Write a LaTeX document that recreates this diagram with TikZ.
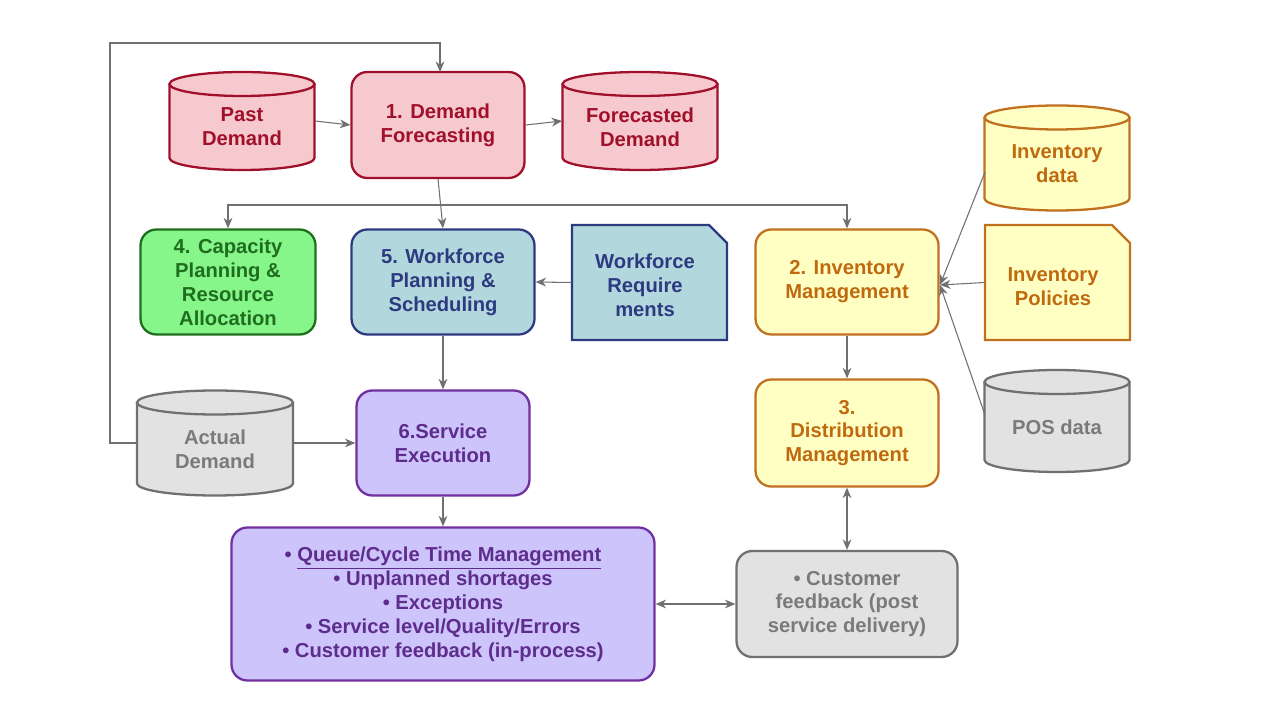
\documentclass[tikz,border=0pt]{standalone}
\usepackage{fontspec}
\setmainfont{Liberation Sans}
\usetikzlibrary{arrows.meta}
\definecolor{redF}{HTML}{F6C9CF}\definecolor{redD}{HTML}{A0102A}
\definecolor{grnF}{HTML}{86F58A}\definecolor{grnD}{HTML}{1E6E1E}
\definecolor{bluF}{HTML}{B2D8DE}\definecolor{bluD}{HTML}{2E3A80}
\definecolor{yelF}{HTML}{FFFFC4}\definecolor{yelD}{HTML}{C0701E}\definecolor{yelT}{HTML}{C06A10}
\definecolor{gryF}{HTML}{E2E2E2}\definecolor{gryD}{HTML}{707070}\definecolor{gryT}{HTML}{7A7A7A}
\definecolor{purF}{HTML}{CCC4FA}\definecolor{purD}{HTML}{7030A0}\definecolor{purT}{HTML}{5E2C8C}
\newcommand\cyl[9]{%
 \fill[#6] ({#2-#4/2},{#3+#5/2-12}) -- ({#2-#4/2},{#3-#5/2+12}) arc[start angle=180,end angle=360,x radius=#4/2,y radius=12] -- ({#2+#4/2},{#3+#5/2-12}) arc[start angle=0,end angle=180,x radius=#4/2,y radius=12] -- cycle;
 \draw[#7,line width=1.3pt] ({#2-#4/2},{#3+#5/2-12}) -- ({#2-#4/2},{#3-#5/2+12}) arc[start angle=180,end angle=360,x radius=#4/2,y radius=12] -- ({#2+#4/2},{#3+#5/2-12});
 \draw[#7,line width=1.3pt] (#2,{#3+#5/2-12}) ellipse[x radius=#4/2,y radius=12];
 \node[minimum width={#4*0.02cm},minimum height={#5*0.02cm},inner sep=0] (#1) at (#2,#3) {};
 \node[txt,text=#8] at (#2,{#3-6}) {#9};}
\newcommand\docshape[8]{%
 \draw[fill=#6,draw=#7,line width=1.3pt] ({#2-#4/2},{#3+#5/2}) -- ({#2+#4/2-18},{#3+#5/2}) -- ({#2+#4/2},{#3+#5/2-18}) -- ({#2+#4/2},{#3-#5/2}) -- ({#2-#4/2},{#3-#5/2}) -- cycle;
 \node[minimum width={#4*0.02cm},minimum height={#5*0.02cm},inner sep=0] (#1) at (#2,#3) {};
 \node[txt,text=#8] at (#2,#3) {#8};}
\tikzset{
 txt/.style={font=\bfseries\fontsize{11.5}{13.6}\selectfont,align=center,inner sep=0},
 box/.style={txt,rounded corners=9pt,line width=1.3pt,inner sep=0},
 arr/.style={draw=gryD,line width=0.6pt,-{Stealth[length=6pt,width=5pt]}},
 darr/.style={draw=gryD,line width=0.6pt,{Stealth[length=6pt,width=5pt]}-{Stealth[length=6pt,width=5pt]}}
}
\begin{document}
\begin{tikzpicture}[x=0.02cm,y=0.02cm]
\useasboundingbox[fill=white] (0,0) rectangle (1280,720);
% row 1
\cyl{past}{242}{599}{145}{98}{redF}{redD}{redD}{Past\\Demand}
\node[box,fill=redF,draw=redD,text=redD,minimum width=3.46cm,minimum height=2.12cm] (df) at (438,595) {1. Demand\\Forecasting};
\cyl{fore}{640}{599}{155}{98}{redF}{redD}{redD}{Forecasted\\Demand}
% row 2
\node[box,fill=grnF,draw=grnD,text=grnD,minimum width=3.5cm,minimum height=2.1cm] (cap) at (228,438) {4. Capacity\\Planning \&\\Resource\\Allocation};
\node[box,fill=bluF,draw=bluD,text=bluD,minimum width=3.66cm,minimum height=2.1cm] (wf) at (443,438) {5. Workforce\\Planning \&\\Scheduling};
\draw[fill=bluF,draw=bluD,line width=1.3pt] (572,495) -- (709,495) -- (727,477) -- (727,380) -- (572,380) -- cycle;
\node[minimum width=3.1cm,minimum height=2.3cm] (wr) at (649.5,437.5) {};
\node[txt,text=bluD] at (645,435) {Workforce\\Require\\ments};
\node[box,fill=yelF,draw=yelD,text=yelT,minimum width=3.66cm,minimum height=2.1cm] (im) at (847,438) {2. Inventory\\Management};
\cyl{invd}{1057}{562}{145}{105}{yelF}{yelD}{yelT}{Inventory\\data}
\draw[fill=yelF,draw=yelD,line width=1.3pt] (985,495) -- (1112,495) -- (1130,477) -- (1130,380) -- (985,380) -- cycle;
\node[minimum width=2.9cm,minimum height=2.3cm] (ip) at (1057.5,437.5) {};
\node[txt,text=yelT] at (1053,433) {Inventory\\Policies};
\cyl{pos}{1057}{299}{145}{102}{gryF}{gryD}{gryT}{POS data}
% row 3
\cyl{act}{215}{277}{156}{105}{gryF}{gryD}{gryT}{Actual\\Demand}
\node[box,fill=purF,draw=purD,text=purT,minimum width=3.46cm,minimum height=2.1cm] (se) at (443,277) {6.Service\\Execution};
\node[box,fill=yelF,draw=yelD,text=yelT,minimum width=3.66cm,minimum height=2.14cm] (dm) at (847,287) {3.\\Distribution\\Management};
% row 4
\node[box,fill=purF,draw=purD,text=purT,minimum width=8.46cm,minimum height=3.06cm] (bl) at (443,116) {• \underline{Queue/Cycle Time Management}\\• Unplanned shortages\\• Exceptions\\• Service level/Quality/Errors\\• Customer feedback (in-process)};
\node[box,fill=gryF,draw=gryD,text=gryT,minimum width=4.42cm,minimum height=2.12cm] (cf) at (847,116) {• Customer\\feedback (post\\service delivery)};
% connectors
\coordinate (j) at (438,515);
\draw[arr] (act.west) -- (110,277) -- (110,677) -- (440,677) -- (440,648);
\draw[arr] (past.east) -- (df.west);
\draw[arr] (df.east) -- (fore.west);
\draw[arr] (df.south) -- (wf.north);
\draw[arr] (j) -- (228,515) -- (cap.north);
\draw[arr] (j) -- (847,515) -- (im.north);
\draw[arr] (wr.west) -- (wf.east);
\coordinate (ie) at (940,435);
\draw[arr] (985,548) -- (ie);
\draw[arr] (ip.west) -- (ie);
\draw[arr] (985,305) -- (ie);
\draw[arr] (wf.south) -- (se.north);
\draw[arr] (act.east) -- (se.west);
\draw[arr] (im.south) -- (dm.north);
\draw[arr] (se.south) -- (bl.north);
\draw[darr] (dm.south) -- (cf.north);
\draw[darr] (bl.east) -- (cf.west);
\end{tikzpicture}
\end{document}
